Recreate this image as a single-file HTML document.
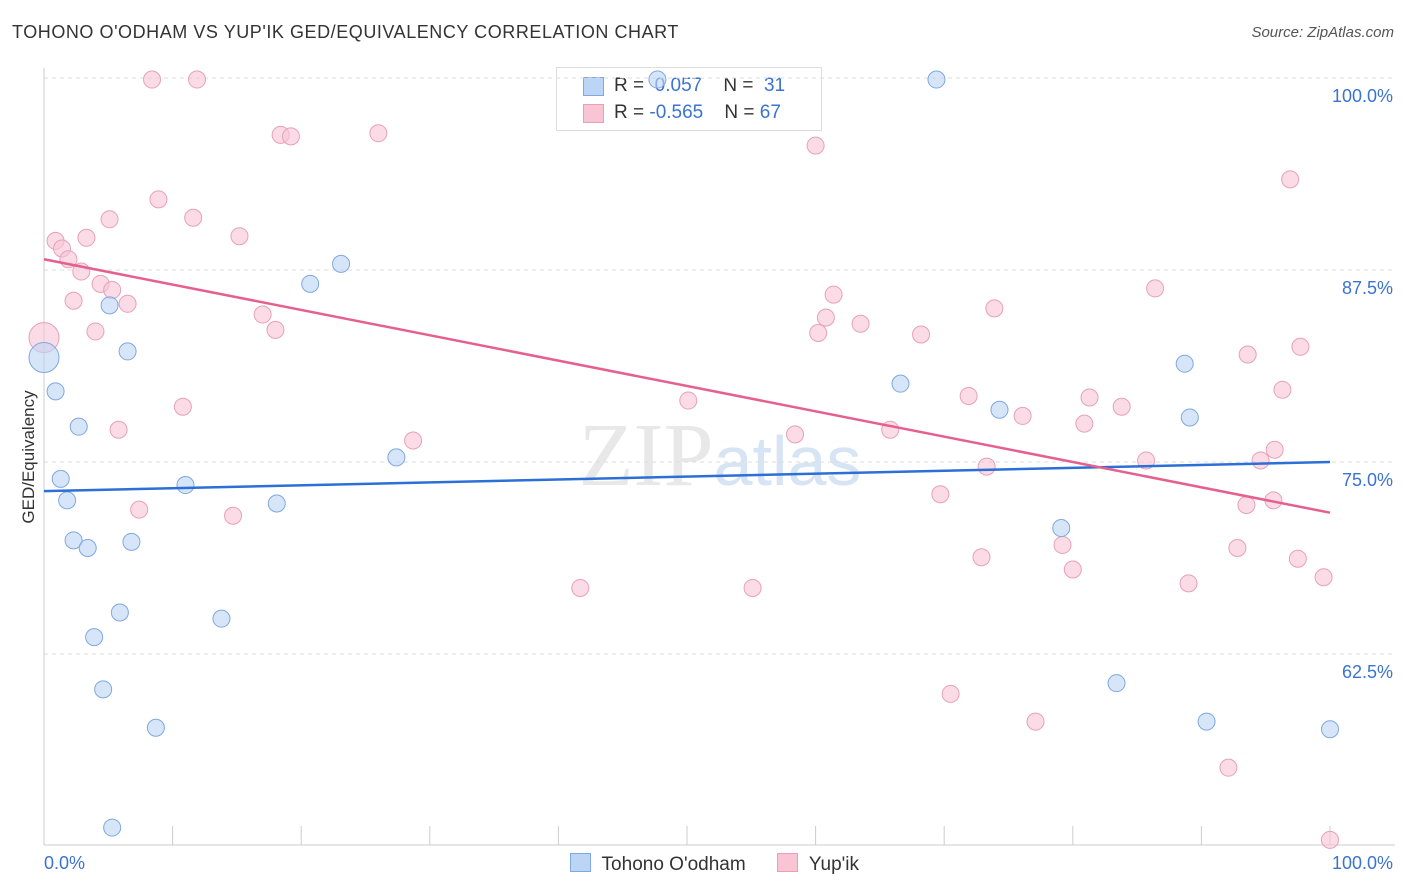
<!DOCTYPE html>
<html><head><meta charset="utf-8"><style>
body{margin:0;background:#fff;font-family:"Liberation Sans",sans-serif;}
#wrap{position:relative;width:1406px;height:892px;overflow:hidden;}
.t{position:absolute;white-space:nowrap;}
</style></head><body>
<div id="wrap">
<div class="t" style="left:12px;top:22px;font-size:18px;color:#333;letter-spacing:0.55px">TOHONO O'ODHAM VS YUP'IK GED/EQUIVALENCY CORRELATION CHART</div>
<div class="t" style="right:12px;top:24px;font-size:15px;color:#555;font-style:italic">Source: ZipAtlas.com</div>
<div class="t" style="left:556px;top:67px;width:264px;height:62px;border:1px solid #ddd;background:#fff;font-size:19px">
 <div style="position:absolute;left:26px;top:9px;width:19px;height:17px;background:#bcd4f5;border:1px solid #7fa8e0"></div>
 <div class="t" style="left:57px;top:7px;color:#333">R = <span style="color:#3b73d1">&nbsp;0.057</span>&nbsp;&nbsp;&nbsp;&nbsp;N = &nbsp;<span style="color:#3b73d1">31</span></div>
 <div style="position:absolute;left:26px;top:36px;width:19px;height:17px;background:#f9c5d5;border:1px solid #e8a0b8"></div>
 <div class="t" style="left:57px;top:34px;color:#333">R = <span style="color:#3b73d1">-0.565</span>&nbsp;&nbsp;&nbsp;&nbsp;N = <span style="color:#3b73d1">67</span></div>
</div>
<svg id="chart" width="1406" height="892" style="position:absolute;left:0;top:0"></svg>
</div>
<script>
const blueX=[0,0.9,1.3,1.8,2.7,2.3,3.4,5.1,6.5,6.8,5.9,3.9,4.6,8.7,5.3,11.0,13.8,18.1,20.7,23.1,27.4,47.7,69.4,66.6,74.3,79.1,83.4,88.7,89.1,90.4,100];
const blueY=[81.8,79.6,73.9,72.5,77.3,69.9,69.4,85.2,82.2,69.8,65.2,63.6,60.2,57.7,51.2,73.5,64.8,72.3,86.6,87.9,75.3,99.9,99.9,80.1,78.4,70.7,60.6,81.4,77.9,58.1,57.6];
const pinkX=[0,0.9,1.4,1.9,2.9,2.3,3.3,4.0,4.4,5.3,6.5,5.1,5.8,8.4,11.9,8.9,11.6,10.8,7.4,15.2,17.0,18.0,14.7,18.4,19.2,26.0,28.7,41.7,50.1,55.1,58.4,60.0,61.4,60.8,60.2,63.5,65.8,68.2,69.7,70.5,71.9,72.9,73.3,73.9,76.1,77.1,79.2,80.0,80.9,81.3,83.8,85.7,86.4,89.0,92.1,92.8,93.5,93.6,94.6,95.6,95.7,96.3,96.9,97.5,97.7,99.5,100];
const pinkY=[83.1,89.4,88.9,88.2,87.4,85.5,89.6,83.5,86.6,86.2,85.3,90.8,77.1,99.9,99.9,92.1,90.9,78.6,71.9,89.7,84.6,83.6,71.5,96.3,96.2,96.4,76.4,66.8,79.0,66.8,76.8,95.6,85.9,84.4,83.4,84.0,77.1,83.3,72.9,59.9,79.3,68.8,74.7,85.0,78.0,58.1,69.6,68.0,77.5,79.2,78.6,75.1,86.3,67.1,55.1,69.4,72.2,82.0,75.1,72.5,75.8,79.7,93.4,68.7,82.5,67.5,50.4];
const blueTrend=[73.1,75.0];
const pinkTrend=[88.2,71.7];
const yTicks=[100,87.5,75,62.5];
const yTickLabels=["100.0%","87.5%","75.0%","62.5%"];
const xTickVals=[0,10,20,30,40,50,60,70,80,90,100];

const svg=document.getElementById('chart');
const NS='http://www.w3.org/2000/svg';
const X=v=>44+v*12.86;
const Y=v=>78+(100-v)*15.36;
function mk(tag,attrs,parent){const e=document.createElementNS(NS,tag);for(const k in attrs)e.setAttribute(k,attrs[k]);(parent||svg).appendChild(e);return e;}

let wm=mk('text',{x:720,y:485,'text-anchor':'middle','font-size':90,'font-family':'Liberation Serif, serif',fill:'#e8e8e8'});


wm.innerHTML='ZIP<tspan font-family="Liberation Sans, sans-serif" fill="#d6e4f3" font-size="70">atlas</tspan>';

yTicks.forEach((v,i)=>{
  const g=mk('line',{x1:44,x2:1395,y1:Y(v),y2:Y(v),stroke:'#ddd','stroke-dasharray':'4,4'});
  
  
  const t=mk('text',{x:1393,y:Y(v)+24,'text-anchor':'end','font-size':18,fill:'#3b73d1','font-family':'Liberation Sans, sans-serif'});
  t.textContent=yTickLabels[i];
  
  
});
const ax=mk('line',{x1:44,x2:44,y1:68,y2:845,stroke:'#ccc'});


const bx=mk('line',{x1:44,x2:1395,y1:845,y2:845,stroke:'#ccc'});


xTickVals.forEach(v=>{
  const l=mk('line',{x1:X(v),x2:X(v),y1:826,y2:845,stroke:'#ccc'});
  
  
});
const xl0=mk('text',{x:44,y:869,'font-size':18,fill:'#3b73d1','font-family':'Liberation Sans, sans-serif'});xl0.textContent='0.0%';


const xl1=mk('text',{x:1393,y:869,'text-anchor':'end','font-size':18,fill:'#3b73d1','font-family':'Liberation Sans, sans-serif'});xl1.textContent='100.0%';


const yt=mk('text',{x:34,y:457,'text-anchor':'middle','font-size':17,fill:'#333',transform:'rotate(-90 34 457)','font-family':'Liberation Sans, sans-serif'});yt.textContent='GED/Equivalency';



function pts(xs,ys,fill,stroke,name){
  xs.forEach((x,i)=>{
    const r=i===0?15:8.5;
    const c=mk('circle',{cx:X(x),cy:Y(ys[i]),r:r,fill:fill,stroke:stroke,'stroke-width':1,'fill-opacity':0.6});
    
    
  });
}
pts(pinkX,pinkY,'#f9c5d5','#e8a0b8','yupik-point');
pts(blueX,blueY,'#bcd4f5','#7fa8e0','tohono-point');
const bl=mk('line',{x1:X(0),y1:Y(blueTrend[0]),x2:X(100),y2:Y(blueTrend[1]),stroke:'#2c6fd6','stroke-width':2.5});


const pl=mk('line',{x1:X(0),y1:Y(pinkTrend[0]),x2:X(100),y2:Y(pinkTrend[1]),stroke:'#e5608f','stroke-width':2.5});


</script>
<div class="t" style="left:570px;top:853px;font-size:19px;color:#333">
 <span style="display:inline-block;width:19px;height:17px;background:#bcd4f5;border:1px solid #7fa8e0;vertical-align:-2px"></span>&nbsp;&nbsp;Tohono O'odham&nbsp;&nbsp;&nbsp;&nbsp;&nbsp;
 <span style="display:inline-block;width:19px;height:17px;background:#f9c5d5;border:1px solid #e8a0b8;vertical-align:-2px"></span>&nbsp;&nbsp;Yup'ik
</div>
</body></html>
